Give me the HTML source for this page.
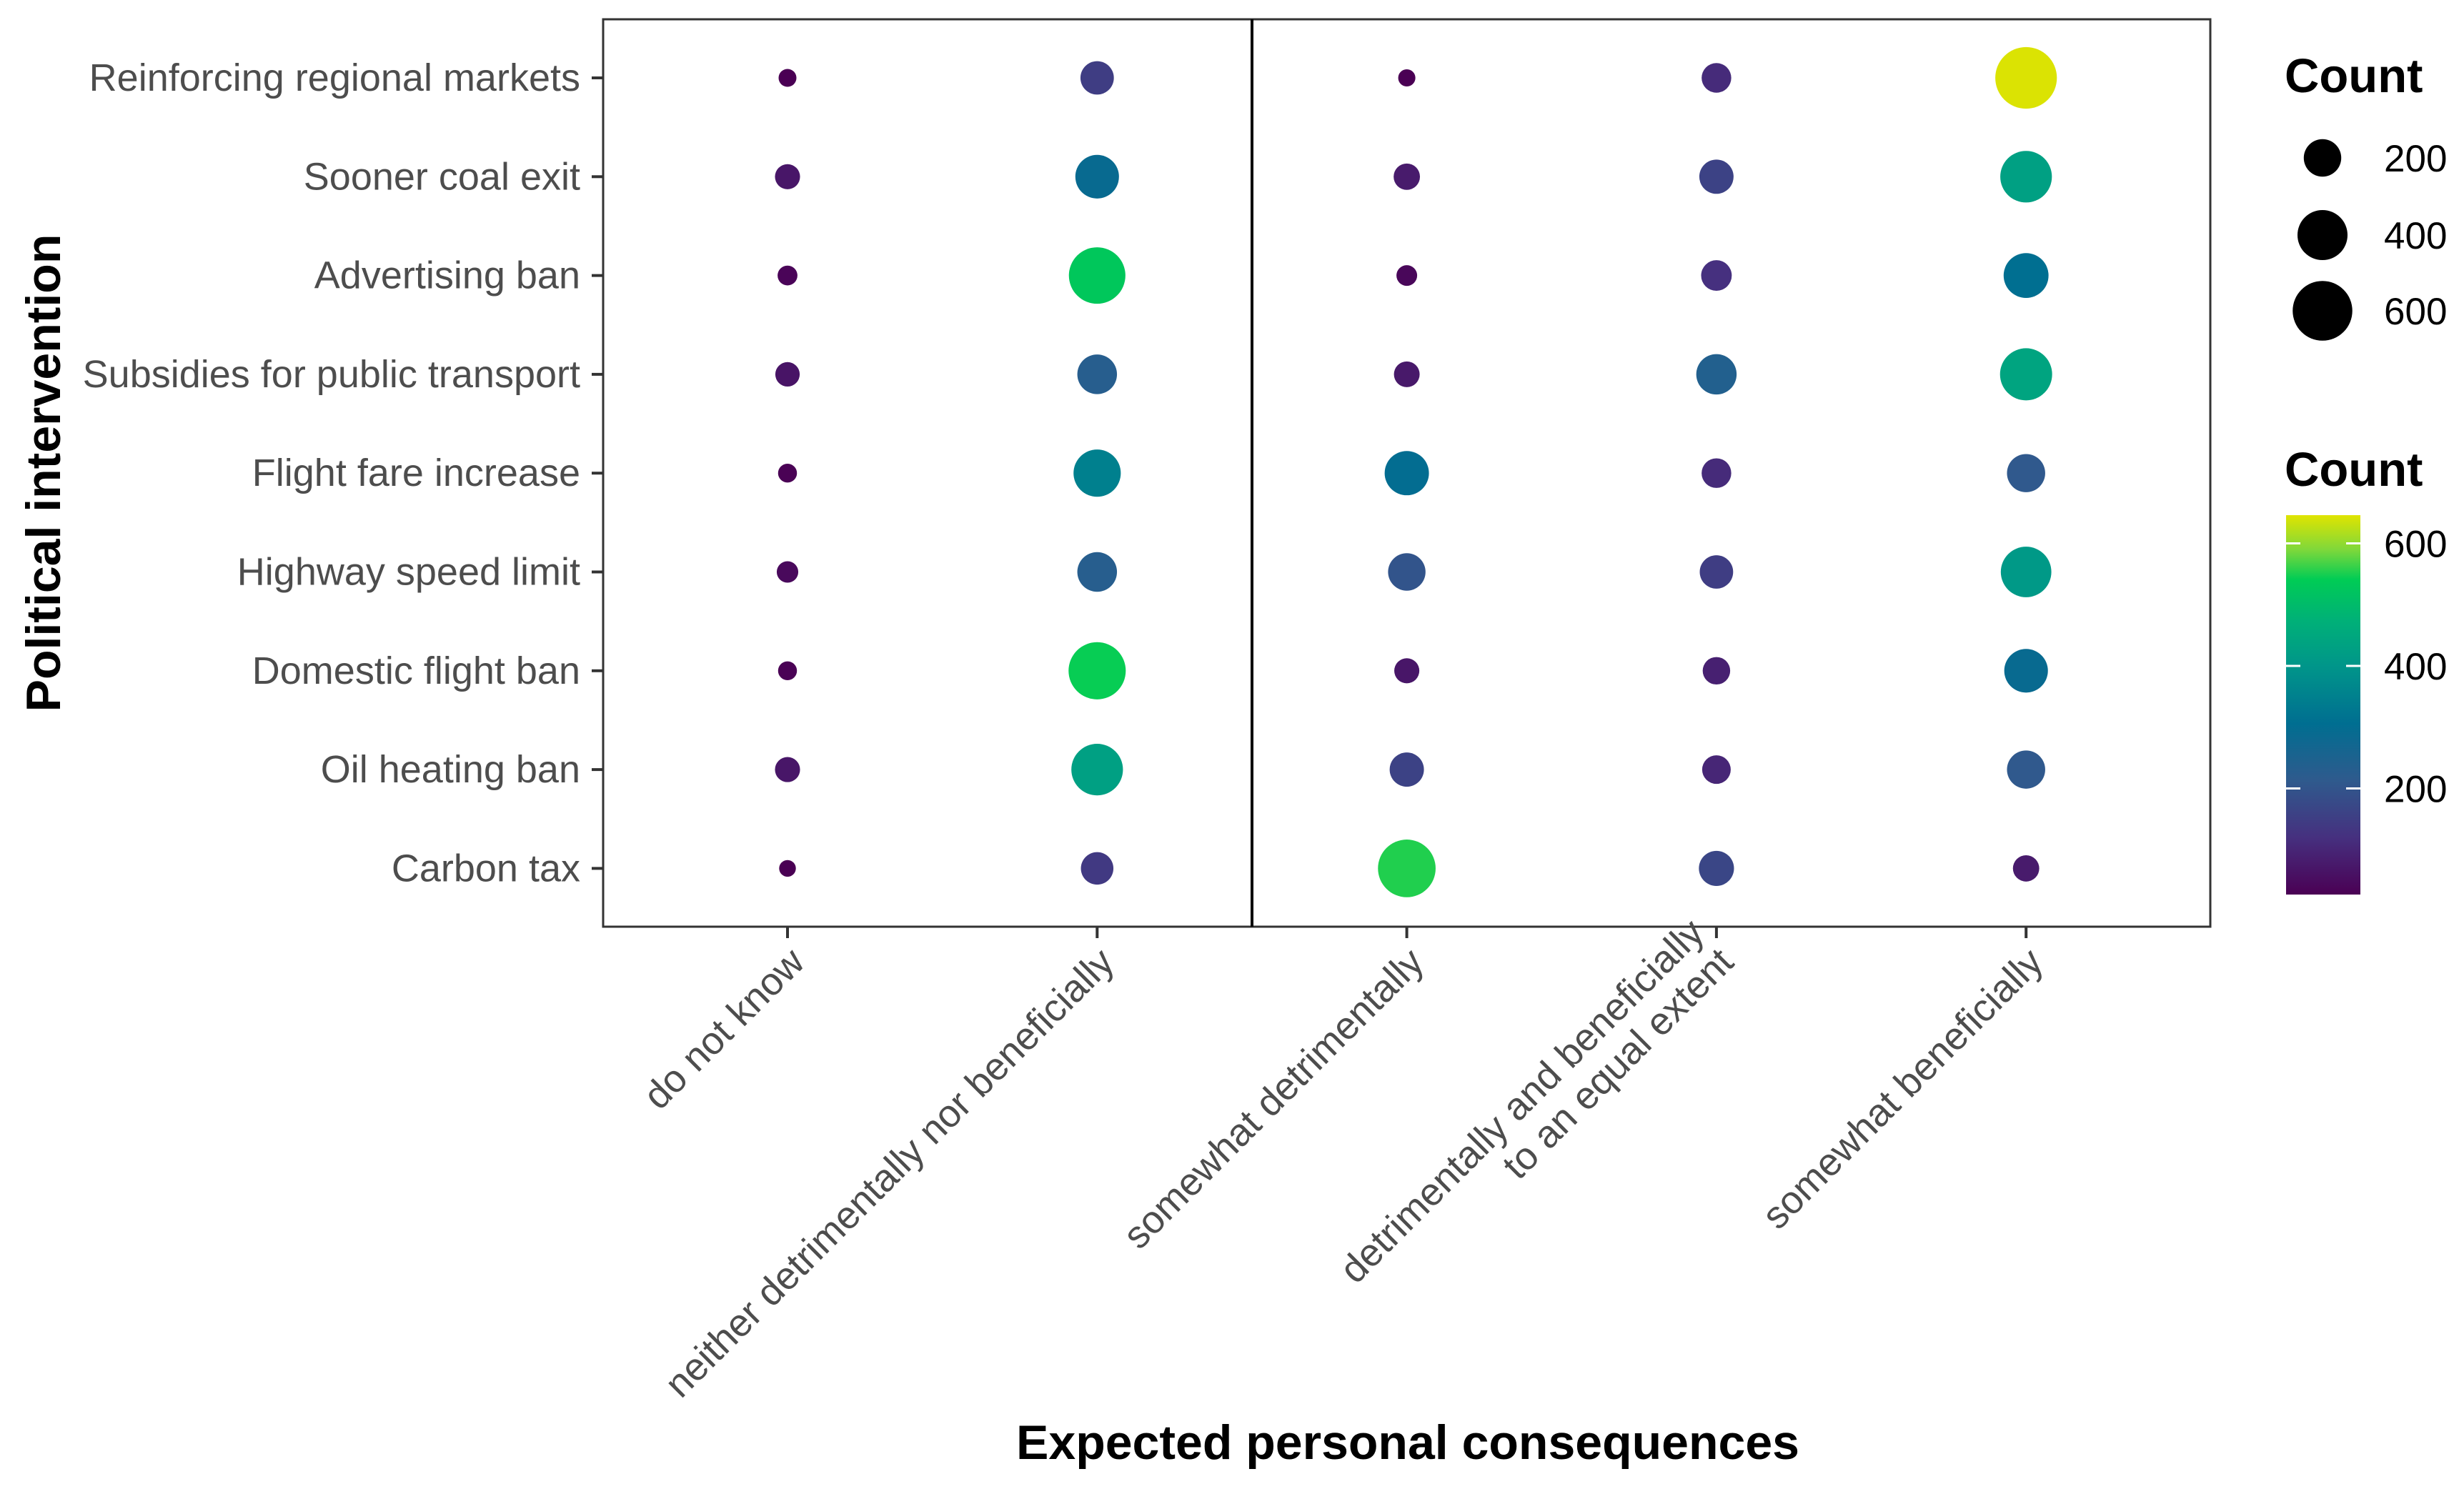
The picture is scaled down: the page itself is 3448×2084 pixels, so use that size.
<!DOCTYPE html>
<html><head><meta charset="utf-8"><style>
html,body{margin:0;padding:0;background:#fff;overflow:hidden;}
svg{display:block;font-family:"Liberation Sans",Arial,sans-serif;}
</style></head><body>
<svg id="chart" width="3448" height="2084" viewBox="0 0 3448 2084" xmlns="http://www.w3.org/2000/svg">
<rect width="3448" height="2084" fill="#fff"/>
<g id="plot"></g>
</svg>
<script>
const rows = ["Reinforcing regional markets","Sooner coal exit","Advertising ban","Subsidies for public transport","Flight fare increase","Highway speed limit","Domestic flight ban","Oil heating ban","Carbon tax"];
const cols = ["do not know","neither detrimentally nor beneficially","somewhat detrimentally","detrimentally and beneficially|to an equal extent","somewhat beneficially"];
const dontKnow   = [25, 70, 35, 65, 30, 45, 30, 70, 20];
const neither    = [150, 290, 530, 230, 350, 230, 545, 430, 140];
const detriment  = [22, 80, 40, 75, 300, 200, 70, 160, 555];
const equal      = [110, 160, 120, 240, 110, 150, 90, 100, 170];
const beneficial = [645, 430, 310, 440, 210, 410, 290, 210, 80];
const seriesVals = [dontKnow, neither, detriment, equal, beneficial];
const sizeLegend = [200, 400, 600];
const colorTicks = [200, 400, 600];
const colorDomain = [27, 648];

const NS="http://www.w3.org/2000/svg";
const g=document.getElementById('plot');
function el(tag,attrs,parent){const e=document.createElementNS(NS,tag);for(const k in attrs)e.setAttribute(k,attrs[k]);(parent||g).appendChild(e);return e;}
const PL=844,PR=3093,PT=27,PB=1297;
const xScale=i=>1102+i*433.3;
const yScale=j=>109+j*138.3;
const rScale=v=>1.5*Math.sqrt(v)+5;
const stops=[[0,'#4a0054'],[0.15,'#46307f'],[0.3,'#2f5a8d'],[0.45,'#006e91'],[0.6,'#00958a'],[0.72,'#00b078'],[0.83,'#00cc55'],[0.91,'#80d83a'],[1,'#e0e400']];
function hex(h){return [1,3,5].map(i=>parseInt(h.substr(i,2),16));}
function colorScale(v){let t=(v-colorDomain[0])/(colorDomain[1]-colorDomain[0]);t=Math.max(0,Math.min(1,t));
for(let i=1;i<stops.length;i++){if(t<=stops[i][0]){const a=stops[i-1],b=stops[i];const f=(t-a[0])/(b[0]-a[0]);const ca=hex(a[1]),cb=hex(b[1]);return 'rgb('+ca.map((c,k)=>Math.round(c+(cb[k]-c)*f)).join(',')+')';}}return stops[stops.length-1][1];}
const cbTop=721,cbBot=1252;
const cbY=v=>1275-v*(171.5/200);

let e=el('rect',{x:PL,y:PT,width:PR-PL,height:PB-PT,fill:'none',stroke:'#333',"stroke-width":3});


e=el('line',{x1:1752,y1:PT,x2:1752,y2:PB,stroke:'#000',"stroke-width":4});



rows.forEach((r,j)=>{
  const y=yScale(j);
  let t=el('line',{x1:828,y1:y,x2:PL,y2:y,stroke:'#333',"stroke-width":4});
  
  
  let tx=el('text',{x:812,y:y+18,"text-anchor":"end","font-size":54,fill:'#4d4d4d'});
  tx.textContent=r;
  
  
});
cols.forEach((c,i)=>{
  const x=xScale(i);
  let t=el('line',{x1:x,y1:PB,x2:x,y2:PB+16,stroke:'#333',"stroke-width":4});
  
  
  const lines=c.split('|');
  let tx=el('text',{transform:`translate(${x+14},${PB+40}) rotate(-45)`,"text-anchor":"end","font-size":54,fill:'#4d4d4d'});
  
  
  lines.forEach((l,k)=>{const ts=el('tspan',{x:0,y:(k-(lines.length-1))*58+18},tx);ts.textContent=l;});
});
seriesVals.forEach((vals,i)=>{
  vals.forEach((v,j)=>{
    let c=el('circle',{cx:xScale(i),cy:yScale(j),r:rScale(v),fill:colorScale(v)});
    
    
  });
});
e=el('text',{x:1970,y:2042,"text-anchor":"middle","font-size":68,"font-weight":"bold",fill:'#000'});
e.textContent='Expected personal consequences';


e=el('text',{transform:'translate(84,662) rotate(-90)',"text-anchor":"middle","font-size":68,"font-weight":"bold",fill:'#000'});
e.textContent='Political intervention';



e=el('text',{x:3197,y:129,"font-size":67,"font-weight":"bold",fill:'#000'});
e.textContent='Count';


[221,329,435].forEach((y,k)=>{
  const v=sizeLegend[k];
  let c=el('circle',{cx:3250,cy:y,r:rScale(v),fill:'#000'});
  
  
  let t=el('text',{x:3336,y:y+19,"font-size":53,fill:'#000'});
  t.textContent=v;
  
  
});
e=el('text',{x:3197,y:680,"font-size":67,"font-weight":"bold",fill:'#000'});
e.textContent='Count';


const defs=el('defs',{});
const lg=el('linearGradient',{id:'cb',x1:0,y1:1,x2:0,y2:0},defs);
stops.forEach(s=>el('stop',{offset:s[0],"stop-color":s[1]},lg));
e=el('rect',{x:3199,y:cbTop,width:104,height:cbBot-cbTop,fill:'url(#cb)'});


colorTicks.forEach(v=>{
  const y=cbY(v);
  let a=el('line',{x1:3199,y1:y,x2:3219,y2:y,stroke:'#fff',"stroke-width":3});
  
  
  let b=el('line',{x1:3283,y1:y,x2:3303,y2:y,stroke:'#fff',"stroke-width":3});
  
  
  let t=el('text',{x:3336,y:y+19,"font-size":53,fill:'#000'});
  t.textContent=v;
  
  
});
</script>
</body></html>
